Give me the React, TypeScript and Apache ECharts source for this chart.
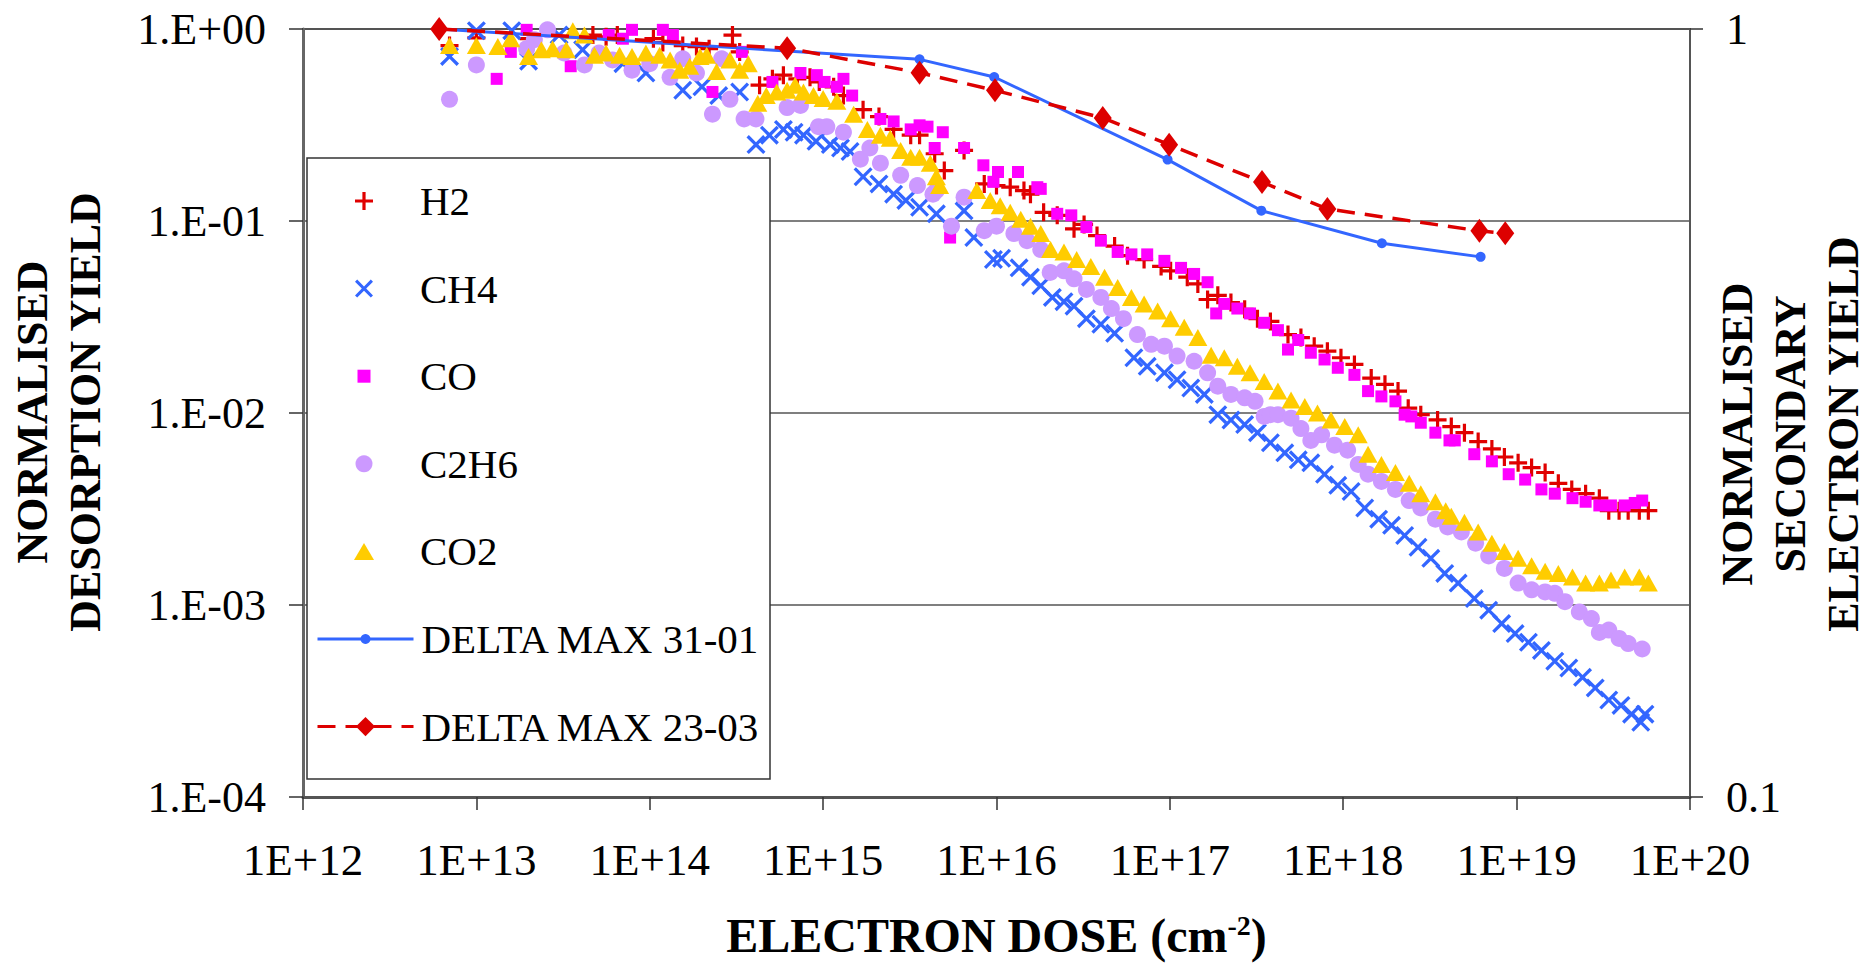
import React, { useEffect, useRef } from 'react';
import * as echarts from 'echarts';

const SERIES_NAMES = ['H2', 'CH4', 'CO', 'C2H6', 'CO2', 'DELTA MAX 31-01', 'DELTA MAX 23-03'];
const X_TICK_LABELS = ['1E+12', '1E+13', '1E+14', '1E+15', '1E+16', '1E+17', '1E+18', '1E+19', '1E+20'];
const Y_TICK_LABELS = ['1.E-04', '1.E-03', '1.E-02', '1.E-01', '1.E+00'];
const Y2_TICK_LABELS = ['0.1', '1'];
const X_TITLE = 'ELECTRON DOSE (cm{sup|-2})';
const Y_TITLE = 'NORMALISED\nDESORPTION YIELD';
const Y2_TITLE = 'NORMALISED\nSECONDARY\nELECTRON YIELD';

// [electron dose (cm^-2), normalised desorption yield]
const H2: [number, number][] = [
  [7.0e12, 0.82], [1.0e13, 0.9], [2.0e13, 0.89], [4.7e13, 0.93], [5.6e13, 0.91], [6.5e13, 0.93],
  [1.05e14, 0.89], [1.19e14, 0.85], [1.55e14, 0.82], [1.86e14, 0.81], [2.2e14, 0.79], [3.0e14, 0.93],
  [3.3e14, 0.76], [4.3e14, 0.51], [5.1e14, 0.55], [5.9e14, 0.575], [7.1e14, 0.55], [8.4e14, 0.56],
  [9.5e14, 0.53], [1.15e15, 0.5], [1.31e15, 0.45], [1.7e15, 0.38], [2.1e15, 0.35], [2.55e15, 0.3],
  [3.2e15, 0.28], [3.6e15, 0.28], [4.4e15, 0.224], [5.0e15, 0.183], [6.5e15, 0.233], [8.5e15, 0.156],
  [1.0e16, 0.153], [1.2e16, 0.15], [1.44e16, 0.144], [1.57e16, 0.138], [1.87e16, 0.111], [2.24e16, 0.107],
  [2.8e16, 0.091], [3.2e16, 0.096], [3.8e16, 0.084], [4.8e16, 0.074], [5.7e16, 0.066], [7.1e16, 0.063],
  [8.9e16, 0.058], [1.01e17, 0.055], [1.26e17, 0.051], [1.45e17, 0.047], [1.65e17, 0.039], [1.89e17, 0.041],
  [2.25e17, 0.0376], [2.7e17, 0.0347], [3.2e17, 0.031], [3.8e17, 0.03], [4.8e17, 0.0256], [5.7e17, 0.0247],
  [6.8e17, 0.0223], [8.1e17, 0.021], [9.7e17, 0.0194], [1.16e18, 0.0179], [1.45e18, 0.0152], [1.74e18, 0.0141],
  [2.07e18, 0.013], [2.37e18, 0.0106], [2.8e18, 0.0098], [3.5e18, 0.0092], [4.2e18, 0.0085], [5.0e18, 0.0079],
  [6.0e18, 0.0071], [7.2e18, 0.0065], [8.5e18, 0.0059], [1.02e19, 0.0055], [1.22e19, 0.0052], [1.46e19, 0.0049],
  [1.74e19, 0.0043], [2.08e19, 0.004], [2.5e19, 0.0038], [3.0e19, 0.0036], [3.4e19, 0.0031], [3.9e19, 0.0031],
  [4.4e19, 0.0031], [5.1e19, 0.0031], [5.75e19, 0.0031],
];

const CH4: [number, number][] = [
  [7.0e12, 0.72], [1.0e13, 0.98], [1.6e13, 0.98], [2.0e13, 0.68], [3.0e13, 0.93], [4.1e13, 0.78],
  [7.0e13, 0.66], [9.5e13, 0.59], [1.55e14, 0.48], [2.0e14, 0.5], [2.5e14, 0.45], [3.3e14, 0.47],
  [4.1e14, 0.25], [4.9e14, 0.28], [5.9e14, 0.3], [6.8e14, 0.29], [7.7e14, 0.28], [9.1e14, 0.26],
  [1.1e15, 0.25], [1.26e15, 0.24], [1.43e15, 0.23], [1.7e15, 0.17], [2.1e15, 0.156], [2.55e15, 0.138],
  [3.0e15, 0.128], [3.6e15, 0.118], [4.5e15, 0.109], [6.5e15, 0.113], [7.4e15, 0.082], [9.6e15, 0.063],
  [1.07e16, 0.064], [1.35e16, 0.057], [1.57e16, 0.051], [1.8e16, 0.046], [2.1e16, 0.04], [2.45e16, 0.038],
  [2.8e16, 0.036], [3.3e16, 0.031], [4.0e16, 0.029], [4.8e16, 0.026], [6.2e16, 0.0194], [7.4e16, 0.0175],
  [9.3e16, 0.0162], [1.1e17, 0.0149], [1.32e17, 0.0135], [1.58e17, 0.0125], [1.89e17, 0.0098], [2.25e17, 0.0092],
  [2.7e17, 0.0087], [3.2e17, 0.0079], [3.8e17, 0.007], [4.6e17, 0.0062], [5.5e17, 0.0057], [6.5e17, 0.0055],
  [7.8e17, 0.0048], [9.3e17, 0.0042], [1.11e18, 0.0039], [1.33e18, 0.0032], [1.6e18, 0.0028], [1.9e18, 0.0026],
  [2.26e18, 0.0023], [2.7e18, 0.002], [3.2e18, 0.00175], [3.85e18, 0.00146], [4.6e18, 0.0013], [5.7e18, 0.00108],
  [6.9e18, 0.00094], [8.2e18, 0.0008], [9.8e18, 0.00071], [1.17e19, 0.00064], [1.39e19, 0.00058], [1.66e19, 0.00051],
  [2.0e19, 0.00047], [2.4e19, 0.00042], [2.84e19, 0.00037], [3.4e19, 0.00032], [4.0e19, 0.0003], [4.6e19, 0.00027],
  [5.2e19, 0.000245], [5.5e19, 0.00027],
];

const CO: [number, number][] = [
  [1.31e13, 0.55], [1.58e13, 0.76], [1.95e13, 0.99], [3.5e13, 0.64], [5.8e13, 0.93], [7.0e13, 0.89],
  [7.9e13, 0.99], [1.19e14, 0.99], [1.36e14, 0.93], [2.3e14, 0.47], [3.4e14, 0.76], [5.1e14, 0.53],
  [7.4e14, 0.59], [9.2e14, 0.575], [1.02e15, 0.53], [1.2e15, 0.5], [1.31e15, 0.55], [1.47e15, 0.45],
  [2.14e15, 0.34], [2.55e15, 0.33], [3.2e15, 0.3], [3.6e15, 0.315], [4.0e15, 0.31], [4.4e15, 0.24],
  [4.9e15, 0.29], [5.4e15, 0.082], [6.5e15, 0.24], [8.4e15, 0.195], [9.6e15, 0.16], [1.02e16, 0.18],
  [1.33e16, 0.18], [1.72e16, 0.15], [1.8e16, 0.147], [2.24e16, 0.109], [2.7e16, 0.107], [3.3e16, 0.093],
  [4.0e16, 0.079], [5.0e16, 0.069], [6.0e16, 0.067], [7.4e16, 0.067], [9.3e16, 0.062], [1.16e17, 0.057],
  [1.38e17, 0.053], [1.65e17, 0.048], [1.85e17, 0.033], [2.06e17, 0.037], [2.45e17, 0.035], [2.9e17, 0.033],
  [3.5e17, 0.0295], [4.2e17, 0.027], [4.8e17, 0.0214], [5.5e17, 0.024], [6.5e17, 0.0206], [7.8e17, 0.019],
  [9.3e17, 0.0172], [1.16e18, 0.0158], [1.39e18, 0.013], [1.66e18, 0.0122], [2.0e18, 0.0115], [2.26e18, 0.0098],
  [2.47e18, 0.0096], [2.8e18, 0.0089], [3.4e18, 0.0079], [4.1e18, 0.0072], [4.4e18, 0.0072], [5.7e18, 0.0061],
  [7.2e18, 0.0056], [9.0e18, 0.0048], [1.12e19, 0.0045], [1.39e19, 0.004], [1.66e19, 0.0038], [2.1e19, 0.0036],
  [2.5e19, 0.00345], [3.0e19, 0.0033], [3.5e19, 0.0033], [4.2e19, 0.0033], [4.8e19, 0.0034], [5.3e19, 0.0035],
];

const C2H6: [number, number][] = [
  [7.0e12, 0.43], [1.0e13, 0.65], [1.95e13, 0.79], [2.16e13, 0.88], [2.57e13, 0.99], [3.2e13, 0.75],
  [4.2e13, 0.65], [5.1e13, 0.75], [6.1e13, 0.69], [7.9e13, 0.61], [1.0e14, 0.66], [1.31e14, 0.56],
  [1.55e14, 0.7], [1.86e14, 0.59], [2.3e14, 0.36], [2.6e14, 0.7], [2.9e14, 0.43], [3.5e14, 0.34],
  [4.1e14, 0.34], [6.2e14, 0.39], [7.4e14, 0.4], [9.4e14, 0.31], [1.05e15, 0.31], [1.31e15, 0.29],
  [1.64e15, 0.21], [1.86e15, 0.24], [2.14e15, 0.2], [2.8e15, 0.173], [3.5e15, 0.153], [4.3e15, 0.138],
  [4.5e15, 0.144], [5.5e15, 0.094], [6.5e15, 0.133], [8.5e15, 0.089], [1.0e16, 0.094], [1.26e16, 0.086],
  [1.5e16, 0.079], [1.8e16, 0.071], [2.04e16, 0.054], [2.45e16, 0.055], [2.8e16, 0.05], [3.3e16, 0.044],
  [4.0e16, 0.04], [4.6e16, 0.035], [5.4e16, 0.031], [6.5e16, 0.0256], [7.8e16, 0.0228], [9.3e16, 0.0223],
  [1.1e17, 0.0198], [1.38e17, 0.0186], [1.65e17, 0.0162], [1.89e17, 0.0138], [2.25e17, 0.0125], [2.7e17, 0.012],
  [3.1e17, 0.0115], [3.5e17, 0.0096], [3.8e17, 0.0098], [4.2e17, 0.0098], [5.0e17, 0.0094], [5.7e17, 0.0083],
  [6.5e17, 0.0072], [7.5e17, 0.0077], [8.9e17, 0.0068], [1.06e18, 0.0064], [1.22e18, 0.0054], [1.39e18, 0.0048],
  [1.66e18, 0.0044], [2.0e18, 0.004], [2.4e18, 0.0035], [2.8e18, 0.0032], [3.4e18, 0.0028], [4.0e18, 0.00255],
  [4.8e18, 0.0024], [5.8e18, 0.0021], [6.9e18, 0.0018], [8.5e18, 0.00155], [1.02e19, 0.0013], [1.22e19, 0.0012],
  [1.46e19, 0.00117], [1.66e19, 0.00115], [1.9e19, 0.00104], [2.3e19, 0.00092], [2.7e19, 0.00085], [3.0e19, 0.00072],
  [3.4e19, 0.00074], [3.9e19, 0.00067], [4.4e19, 0.00063], [5.3e19, 0.00059],
];

const CO2: [number, number][] = [
  [7.0e12, 0.82], [1.0e13, 0.82], [1.33e13, 0.81], [1.58e13, 0.89], [2.0e13, 0.72], [2.37e13, 0.78],
  [2.75e13, 0.79], [3.3e13, 0.78], [3.6e13, 0.98], [4.2e13, 0.93], [4.8e13, 0.73], [5.6e13, 0.75],
  [6.7e13, 0.73], [7.9e13, 0.72], [9.5e13, 0.75], [1.14e14, 0.73], [1.31e14, 0.69], [1.49e14, 0.61],
  [1.7e14, 0.64], [1.95e14, 0.72], [2.13e14, 0.73], [2.43e14, 0.6], [2.9e14, 0.69], [3.3e14, 0.61],
  [3.7e14, 0.66], [4.2e14, 0.41], [4.7e14, 0.45], [5.4e14, 0.47], [6.2e14, 0.48], [6.9e14, 0.51],
  [7.7e14, 0.47], [8.8e14, 0.45], [1.0e15, 0.435], [1.2e15, 0.42], [1.5e15, 0.36], [1.8e15, 0.3],
  [2.14e15, 0.28], [2.44e15, 0.27], [2.8e15, 0.233], [3.2e15, 0.215], [3.6e15, 0.215], [4.15e15, 0.2],
  [4.5e15, 0.17], [4.7e15, 0.153], [7.7e15, 0.144], [9.2e15, 0.128], [1.05e16, 0.12], [1.2e16, 0.111],
  [1.38e16, 0.102], [1.57e16, 0.094], [1.8e16, 0.086], [2.05e16, 0.071], [2.45e16, 0.069], [2.9e16, 0.063],
  [3.5e16, 0.058], [4.2e16, 0.051], [5.0e16, 0.045], [6.0e16, 0.04], [7.1e16, 0.037], [8.5e16, 0.034],
  [1.01e17, 0.031], [1.21e17, 0.028], [1.45e17, 0.0247], [1.73e17, 0.02], [2.06e17, 0.0194], [2.45e17, 0.0175],
  [2.9e17, 0.0162], [3.5e17, 0.0146], [4.2e17, 0.013], [5.0e17, 0.0117], [6.0e17, 0.0108], [7.1e17, 0.01],
  [8.5e17, 0.0092], [1.02e18, 0.0085], [1.22e18, 0.0077], [1.39e18, 0.0061], [1.66e18, 0.0054], [2.0e18, 0.0049],
  [2.4e18, 0.0043], [2.8e18, 0.0038], [3.4e18, 0.00345], [3.9e18, 0.0031], [4.2e18, 0.0029], [5.0e18, 0.0027],
  [6.0e18, 0.0024], [7.2e18, 0.0021], [8.5e18, 0.0019], [1.02e19, 0.00175], [1.22e19, 0.0016], [1.46e19, 0.0015],
  [1.74e19, 0.00146], [2.1e19, 0.0014], [2.5e19, 0.0013], [3.0e19, 0.0013], [3.5e19, 0.00135], [4.2e19, 0.0014],
  [5.1e19, 0.0014], [5.75e19, 0.0013],
];

// [electron dose (cm^-2), normalised secondary electron yield]
const DELTA_31_01: [number, number][] = [
  [6.1e12, 1.0], [3.6e15, 0.913], [9.7e15, 0.866], [9.7e16, 0.676], [3.37e17, 0.58], [1.67e18, 0.526], [6.2e18, 0.505],
];
const DELTA_23_03: [number, number][] = [
  [6.1e12, 1.0], [6.2e14, 0.944], [3.6e15, 0.877], [9.8e15, 0.832], [4.1e16, 0.766], [9.9e16, 0.707],
  [3.4e17, 0.632], [8.1e17, 0.583], [6.1e18, 0.546], [8.6e18, 0.542],
];

const FONT = "'Liberation Serif', 'Times New Roman', Times, serif";
const PLUS = 'path://M-1.6,-9H1.6V-1.6H9V1.6H1.6V9H-1.6V1.6H-9V-1.6H-1.6Z';
const CROSS = 'path://M-9,-6.8L-6.8,-9L0,-2.2L6.8,-9L9,-6.8L2.2,0L9,6.8L6.8,9L0,2.2L-6.8,9L-9,6.8L-2.2,0Z';
const SQUARE = 'path://M0,0H10V10H0Z';
const TRIANGLE = 'path://M0,0L10,17L-10,17Z';

const expOf = (v: number) => Math.round(Math.log10(v));

const LEGEND_CENTERS = [201, 288.6, 376.2, 463.8, 551.4, 639, 726.6];

function scatterLegend(name: string, cy: number, size: number) {
  return {
    data: [name],
    orient: 'vertical',
    left: 364 - size / 2,
    top: cy - 24,
    itemWidth: size,
    itemHeight: size,
    padding: 0,
    selectedMode: false,
    z: 20,
    textStyle: { fontFamily: FONT, fontSize: 41, color: '#000', lineHeight: 48, padding: [0, 0, 0, 51 - size / 2] },
  };
}

function lineLegend(name: string, cy: number, h: number) {
  return {
    data: [name],
    orient: 'vertical',
    left: 316,
    top: cy - 24,
    itemWidth: 96,
    itemHeight: h,
    padding: 0,
    selectedMode: false,
    z: 20,
    lineStyle: { width: 3 },
    textStyle: { fontFamily: FONT, fontSize: 41, color: '#000', lineHeight: 48, padding: [0, 0, 0, 3] },
  };
}

export default function App() {
  const ref = useRef<HTMLDivElement>(null);
  useEffect(() => {
    if (!ref.current) return;
    const chart = echarts.init(ref.current, null, { renderer: 'svg' });
    const option: any = {
      animation: false,
      backgroundColor: '#fff',
      grid: { left: 303, right: 182, top: 29, bottom: 167, show: true, borderColor: '#555', borderWidth: 2, backgroundColor: 'transparent' },
      xAxis: {
        type: 'log',
        logBase: 10,
        min: 1e12,
        max: 1e20,
        splitNumber: 8,
        axisLine: { show: true, lineStyle: { color: '#555', width: 3 } },
        axisTick: { show: true, inside: false, length: 13, lineStyle: { color: '#333', width: 1.5 } },
        axisLabel: {
          formatter: (v: number) => X_TICK_LABELS[expOf(v) - 12] ?? '',
          fontFamily: FONT, fontSize: 45, color: '#000', margin: 40,
          showMinLabel: true, showMaxLabel: true,
        },
        splitLine: { show: false },
        minorTick: { show: false },
        name: X_TITLE,
        nameLocation: 'middle',
        nameGap: 114,
        nameMoveOverlap: false,
        nameTextStyle: {
          fontFamily: FONT, fontSize: 48, fontWeight: 'bold', color: '#000',
          rich: { sup: { fontFamily: FONT, fontSize: 28, fontWeight: 'bold', color: '#000', verticalAlign: 'top' } },
        },
      },
      yAxis: [
        {
          type: 'log',
          logBase: 10,
          min: 1e-4,
          max: 1,
          splitNumber: 4,
          position: 'left',
          axisLine: { show: true, lineStyle: { color: '#666', width: 3 } },
          axisTick: { show: true, inside: false, length: 14, lineStyle: { color: '#333', width: 1.5 } },
          axisLabel: {
            formatter: (v: number) => Y_TICK_LABELS[expOf(v) + 4] ?? '',
            fontFamily: FONT, fontSize: 44, color: '#000', margin: 37,
            showMinLabel: true, showMaxLabel: true,
          },
          splitLine: { show: true, lineStyle: { color: '#555', width: 1.5 } },
          minorTick: { show: false },
        },
        {
          type: 'log',
          logBase: 10,
          min: 0.1,
          max: 1,
          splitNumber: 1,
          position: 'right',
          axisLine: { show: true, lineStyle: { color: '#555', width: 2 } },
          axisTick: { show: true, inside: false, length: 13, lineStyle: { color: '#333', width: 1.5 } },
          axisLabel: {
            formatter: (v: number) => Y2_TICK_LABELS[expOf(v) + 1] ?? '',
            fontFamily: FONT, fontSize: 44, color: '#000', margin: 36,
            showMinLabel: true, showMaxLabel: true,
          },
          splitLine: { show: false },
          minorTick: { show: false },
        },
      ],
      legend: [
        scatterLegend(SERIES_NAMES[0], LEGEND_CENTERS[0], 18),
        scatterLegend(SERIES_NAMES[1], LEGEND_CENTERS[1], 18),
        scatterLegend(SERIES_NAMES[2], LEGEND_CENTERS[2], 13),
        scatterLegend(SERIES_NAMES[3], LEGEND_CENTERS[3], 17),
        scatterLegend(SERIES_NAMES[4], LEGEND_CENTERS[4], 20),
        lineLegend(SERIES_NAMES[5], LEGEND_CENTERS[5], 12.5),
        lineLegend(SERIES_NAMES[6], LEGEND_CENTERS[6], 24),
      ],
      graphic: [
        {
          type: 'rect',
          z: 10,
          shape: { x: 307, y: 158, width: 463, height: 621 },
          style: { fill: '#fff', stroke: '#333', lineWidth: 1.5 },
        },
        {
          type: 'text',
          z: 10,
          x: 58.5,
          y: 412,
          rotation: Math.PI / 2,
          style: {
            text: Y_TITLE, fontFamily: FONT, fontSize: 44, fontWeight: 'bold', fill: '#000',
            align: 'center', verticalAlign: 'middle', lineHeight: 53,
          },
        },
        {
          type: 'text',
          z: 10,
          x: 1790,
          y: 434,
          rotation: Math.PI / 2,
          style: {
            text: Y2_TITLE, fontFamily: FONT, fontSize: 44, fontWeight: 'bold', fill: '#000',
            align: 'center', verticalAlign: 'middle', lineHeight: 53,
          },
        },
      ],
      series: [
        { name: SERIES_NAMES[0], type: 'scatter', data: H2, symbol: PLUS, symbolSize: 18, clip: false, itemStyle: { color: '#E00000', opacity: 1 } },
        { name: SERIES_NAMES[1], type: 'scatter', data: CH4, symbol: CROSS, symbolSize: 19, clip: false, itemStyle: { color: '#3366FF', opacity: 1 } },
        { name: SERIES_NAMES[2], type: 'scatter', data: CO, symbol: SQUARE, symbolSize: 12, clip: false, itemStyle: { color: '#FF00FF', opacity: 1 } },
        { name: SERIES_NAMES[3], type: 'scatter', data: C2H6, symbol: 'circle', symbolSize: 17, clip: false, itemStyle: { color: '#CC99FF', opacity: 1 } },
        { name: SERIES_NAMES[4], type: 'scatter', data: CO2, symbol: TRIANGLE, symbolSize: [19, 17], clip: false, itemStyle: { color: '#FFCC00', opacity: 1 } },
        {
          name: SERIES_NAMES[5], type: 'line', yAxisIndex: 1, data: DELTA_31_01, clip: false,
          symbol: 'circle', symbolSize: 10, showAllSymbol: true,
          lineStyle: { color: '#3366FF', width: 3 }, itemStyle: { color: '#3366FF' },
        },
        {
          name: SERIES_NAMES[6], type: 'line', yAxisIndex: 1, data: DELTA_23_03, clip: false,
          symbol: 'diamond', symbolSize: [18, 24], showAllSymbol: true,
          lineStyle: { color: '#DD0000', width: 3.5, type: [18, 10] }, itemStyle: { color: '#DD0000' },
        },
      ],
    };
    chart.setOption(option);
    return () => chart.dispose();
  }, []);
  return (
    <div
      ref={ref}
      style={{ position: 'fixed', left: 0, top: 0, width: 1872, height: 964, background: '#fff' }}
    />
  );
}
